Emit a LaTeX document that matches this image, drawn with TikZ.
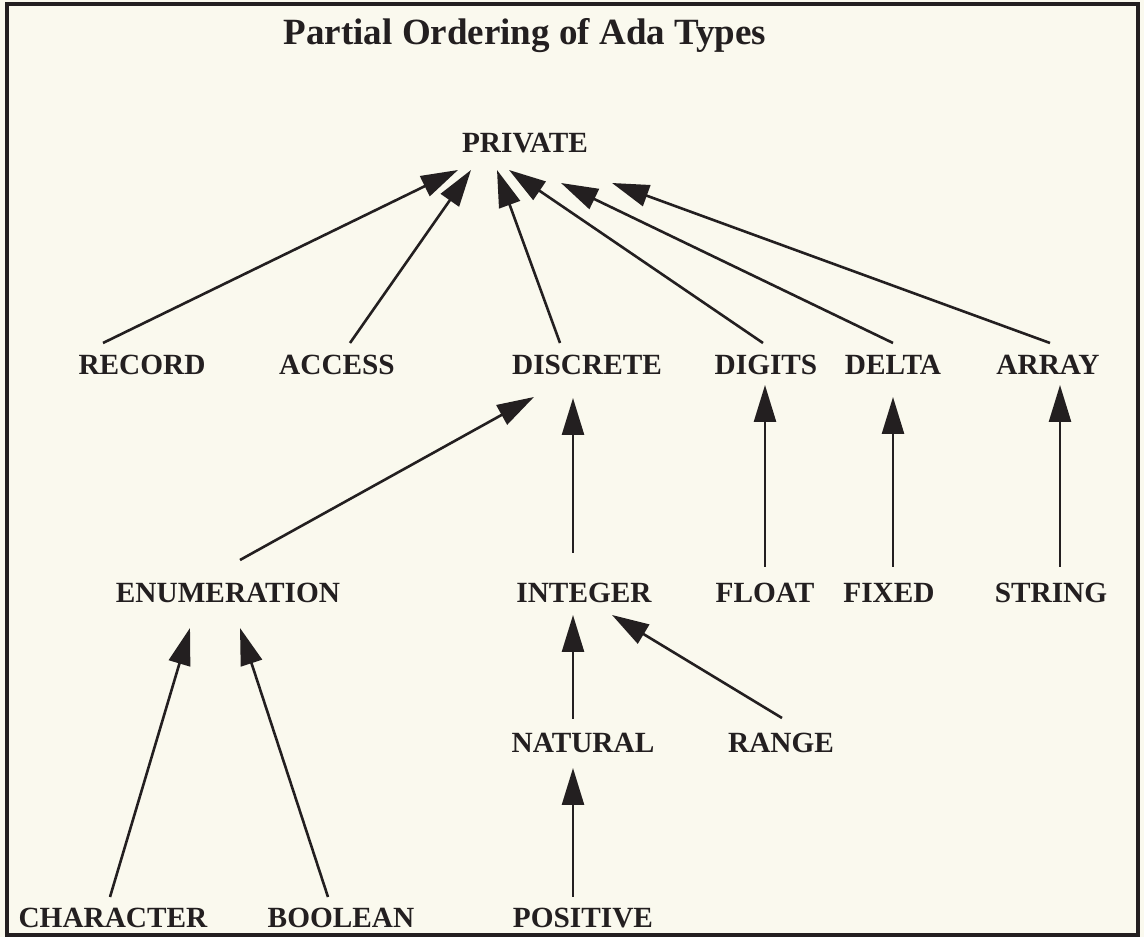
\documentclass[tikz,border=0pt]{standalone}
\usepackage{fontspec}
\setmainfont{Liberation Serif}
\usetikzlibrary{arrows.meta}
\definecolor{paper}{HTML}{FAF9EE}
\definecolor{ink}{HTML}{231F20}
\begin{document}
\begin{tikzpicture}[x=1pt,y=1pt,
  lbl/.style={anchor=base, inner sep=0pt, text=ink,
              font=\fontsize{29.3}{35}\selectfont\bfseries},
  ttl/.style={anchor=base, inner sep=0pt, text=ink,
              font=\fontsize{37}{44}\selectfont\bfseries},
  arr/.style={draw=ink, line width=2.6pt,
              -{Triangle[length=37pt,width=22pt]}}]

% page and frame
\fill[paper] (0,0) rectangle (1144,937);
\useasboundingbox (0,0) rectangle (1144,937);
\draw[ink, line width=3.2pt] (7,2) rectangle (1138,933);

% title
\node[ttl] (title) at (525,892) {Partial Ordering of Ada Types};

% type names
\node[lbl] (private) at (525,784) {PRIVATE};

\node[lbl] (record)   at (142,562)  {RECORD};
\node[lbl] (access)   at (337,562)  {ACCESS};
\node[lbl] (discrete) at (587,562)  {DISCRETE};
\node[lbl] (digits)   at (766,562)  {DIGITS};
\node[lbl] (delta)    at (893,562)  {DELTA};
\node[lbl] (array)    at (1048,562) {ARRAY};

\node[lbl] (enum)    at (228,334)  {ENUMERATION};
\node[lbl] (integer) at (584,334)  {INTEGER};
\node[lbl] (float)   at (765,334)  {FLOAT};
\node[lbl] (fixed)   at (889,334)  {FIXED};
\node[lbl] (string)  at (1051,334) {STRING};

\node[lbl] (natural) at (583,184) {NATURAL};
\node[lbl] (range)   at (781,184) {RANGE};

\node[lbl] (character) at (113,9) {CHARACTER};
\node[lbl] (boolean)   at (341,9) {BOOLEAN};
\node[lbl] (positive)  at (583,9) {POSITIVE};

% subtype arrows, each pointing at its parent type
\draw[arr] ([shift={(-39,32)}]record.base)   -- ([shift={(-67,-17)}]private.base);
\draw[arr] ([shift={(13,32)}]access.base)    -- ([shift={(-54,-17)}]private.base);
\draw[arr] ([shift={(-27,32)}]discrete.base) -- ([shift={(-28,-17)}]private.base);
\draw[arr] ([shift={(-3,32)}]digits.base)    -- ([shift={(-16,-17)}]private.base);
\draw[arr] ([shift={(0,32)}]delta.base)      -- ([shift={(36,-30)}]private.base);
\draw[arr] ([shift={(2,32)}]array.base)      -- ([shift={(87,-30)}]private.base);

\draw[arr] ([shift={(12,43)}]enum.base)     -- ([shift={(-53,-22)}]discrete.base);
\draw[arr] ([shift={(-11,50)}]integer.base) -- ([shift={(-14,-23)}]discrete.base);
\draw[arr] ([shift={(0,36)}]float.base)     -- ([shift={(-1,-10)}]digits.base);
\draw[arr] ([shift={(4,36)}]fixed.base)     -- ([shift={(0,-22)}]delta.base);
\draw[arr] ([shift={(9,36)}]string.base)    -- ([shift={(12,-10)}]array.base);

\draw[arr] ([shift={(-10,34)}]natural.base) -- ([shift={(-11,-12)}]integer.base);
\draw[arr] ([shift={(1,35)}]range.base)     -- ([shift={(28,-12)}]integer.base);

\draw[arr] ([shift={(-10,31)}]positive.base)  -- ([shift={(-10,-15)}]natural.base);
\draw[arr] ([shift={(-3,31)}]character.base)  -- ([shift={(-38,-25)}]enum.base);
\draw[arr] ([shift={(-13,31)}]boolean.base)   -- ([shift={(12,-25)}]enum.base);
\end{tikzpicture}
\end{document}
